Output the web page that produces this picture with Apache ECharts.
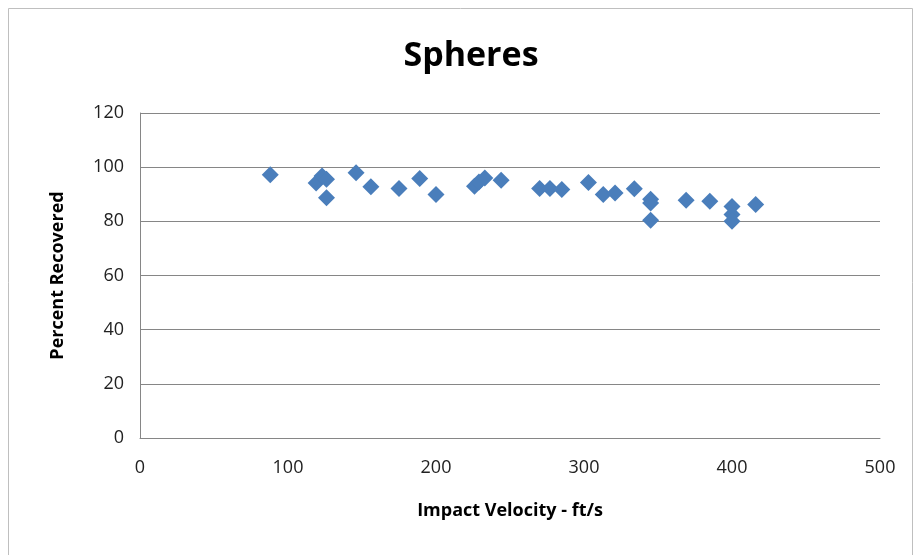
<!DOCTYPE html>
<html>
<head>
<meta charset="utf-8">
<script src="https://cdn.jsdelivr.net/npm/echarts@6/dist/echarts.min.js"></script>
<style>html,body{margin:0;padding:0;background:#fff;}#c{width:917px;height:555px;}</style>
</head>
<body>
<div id="c"></div>
<script>
var titleText = "Spheres";
var xName = "Impact Velocity - ft/s";
var yName = "Percent Recovered";
var velocity = [88, 119, 123, 126, 126, 146, 156, 175, 189, 200, 226, 229, 233, 244, 270, 277, 285, 303, 313, 321, 334, 345, 345, 345, 369, 385, 400, 400, 400, 416];
var recovered = [97.2, 94.2, 96.7, 95.5, 88.7, 97.9, 92.8, 92.1, 95.8, 89.9, 93, 94.5, 96, 95.2, 92.1, 92.1, 91.8, 94.3, 89.9, 90.5, 92, 88.2, 86.8, 80.4, 87.8, 87.4, 85.5, 82.5, 80, 86.2];

var points = velocity.map(function (v, i) { return [v, recovered[i]]; });
var font = "'Open Sans', 'Liberation Sans', sans-serif";
var chart = echarts.init(document.getElementById('c'));
chart.setOption({
  animation: false,
  title: { text: titleText, left: 466, top: 34, textAlign: 'center',
    textStyle: { fontFamily: font, fontSize: 34, fontWeight: 'bold', color: '#000' } },
  graphic: [{ type: 'rect', shape: { x: 8.5, y: 8.5, width: 904, height: 560 },
    style: { fill: null, stroke: '#bfbfbf', lineWidth: 1 }, silent: true }],
  grid: { left: 140, top: 113, width: 740, height: 325, containLabel: false },
  xAxis: {
    type: 'value', min: 0, max: 500, interval: 100,
    name: xName, nameLocation: 'middle', nameGap: 64,
    nameTextStyle: { fontFamily: font, fontSize: 18, fontWeight: 'bold', color: '#000' },
    axisLine: { show: true, lineStyle: { color: '#868686', width: 1 } },
    axisTick: { show: false },
    splitLine: { show: false },
    axisLabel: { fontFamily: font, fontSize: 18, color: '#222', margin: 21 }
  },
  yAxis: {
    type: 'value', min: 0, max: 120, interval: 20,
    name: yName, nameLocation: 'middle', nameGap: 73, nameRotate: 90,
    nameTextStyle: { fontFamily: font, fontSize: 18, fontWeight: 'bold', color: '#000' },
    axisLine: { show: true, lineStyle: { color: '#868686', width: 1 } },
    axisTick: { show: false },
    splitLine: { show: true, lineStyle: { color: '#868686', width: 1 } },
    axisLabel: { fontFamily: font, fontSize: 18, color: '#222', margin: 16 }
  },
  series: [{
    type: 'scatter', data: points, symbol: 'diamond', symbolSize: 17,
    itemStyle: { color: '#4a7ebb', opacity: 1 }
  }]
});
</script>
</body>
</html>
